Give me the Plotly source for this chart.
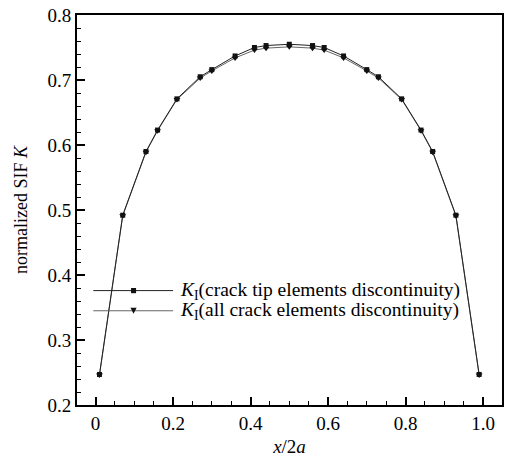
import plotly.graph_objects as go

# ---- data ----
x_pos = [0.01, 0.07, 0.13, 0.16, 0.21, 0.27, 0.30, 0.36, 0.41, 0.44, 0.50,
         0.56, 0.59, 0.64, 0.70, 0.73, 0.79, 0.84, 0.87, 0.93, 0.99]
k_tip = [0.247, 0.492, 0.590, 0.623, 0.671, 0.705, 0.716, 0.737, 0.750, 0.753, 0.755,
         0.753, 0.750, 0.737, 0.716, 0.705, 0.671, 0.623, 0.590, 0.492, 0.247]
k_all = [0.246, 0.491, 0.589, 0.622, 0.670, 0.703, 0.714, 0.734, 0.746, 0.749, 0.751,
         0.749, 0.746, 0.734, 0.714, 0.703, 0.670, 0.622, 0.589, 0.491, 0.246]
names = ["<i>K</i><sub>I</sub>(crack tip elements discontinuity)",
         "<i>K</i><sub>I</sub>(all crack elements discontinuity)"]

FONT = "Liberation Serif"
c1, c2 = "#222222", "#666666"

fig = go.Figure()
fig.add_trace(go.Scatter(x=x_pos, y=k_all, mode="lines+markers", showlegend=False,
                         line=dict(color=c2, width=1),
                         marker=dict(symbol="triangle-down", size=6, color="#111111")))
fig.add_trace(go.Scatter(x=x_pos, y=k_tip, mode="lines+markers", showlegend=False,
                         line=dict(color=c1, width=1),
                         marker=dict(symbol="square", size=5, color="#111111")))

# ---- manual legend (long sample lines as in the reference) ----
leg_x0, leg_x1, leg_xm, leg_tx = -0.006, 0.200, 0.098, 0.212
leg_y = [0.376, 0.345]
shapes = []
annotations = []
for i, (yy, col) in enumerate(zip(leg_y, [c1, c2])):
    shapes.append(dict(type="line", xref="x", yref="y", x0=leg_x0, x1=leg_x1, y0=yy, y1=yy,
                       line=dict(color=col, width=1)))
    annotations.append(dict(xref="x", yref="y", x=leg_tx, y=yy, text=names[i], showarrow=False,
                            xanchor="left", yanchor="middle",
                            font=dict(family=FONT, size=19.5, color="black")))
dx, dy = 0.0065, 0.0040
shapes.append(dict(type="rect", xref="x", yref="y", x0=leg_xm - dx, x1=leg_xm + dx,
                   y0=leg_y[0] - dy, y1=leg_y[0] + dy, fillcolor="#111111", line=dict(width=0)))
tx, ty = 0.0080, 0.0045
shapes.append(dict(type="path", xref="x", yref="y",
                   path=f"M{leg_xm - tx},{leg_y[1] + ty} L{leg_xm + tx},{leg_y[1] + ty} L{leg_xm},{leg_y[1] - ty} Z",
                   fillcolor="#111111", line=dict(width=0)))

axis_common = dict(showline=True, linecolor="black", linewidth=2, mirror=True,
                   ticks="inside", ticklen=8, tickwidth=2, tickcolor="black",
                   showgrid=False, zeroline=False,
                   tickfont=dict(family=FONT, size=19, color="black"))

fig.update_layout(
    width=506, height=457,
    margin=dict(l=77, r=4, t=15, b=52, autoexpand=False),
    plot_bgcolor="white", paper_bgcolor="white",
    shapes=shapes, annotations=annotations,
    xaxis=dict(range=[-0.048, 1.049], tickvals=[0, 0.2, 0.4, 0.6, 0.8, 1.0],
               ticktext=["0", "0.2", "0.4", "0.6", "0.8", "1.0"],
               minor=dict(dtick=0.05, tick0=0, ticks="inside", ticklen=4, tickcolor="black", tickwidth=1),
               title=dict(text="<i>x</i>/2<i>a</i>", standoff=8,
                          font=dict(family=FONT, size=19, color="black")),
               **axis_common),
    yaxis=dict(range=[0.2, 0.8], tickvals=[0.2, 0.3, 0.4, 0.5, 0.6, 0.7, 0.8],
               ticktext=["0.2", "0.3", "0.4", "0.5", "0.6", "0.7", "0.8"],
               minor=dict(dtick=0.02, tick0=0.2, ticks="inside", ticklen=4, tickcolor="black", tickwidth=1),
               title=dict(text="normalized SIF <i>K</i>", standoff=15,
                          font=dict(family=FONT, size=18, color="black")),
               **axis_common),
)

fig.write_html("out.html")
